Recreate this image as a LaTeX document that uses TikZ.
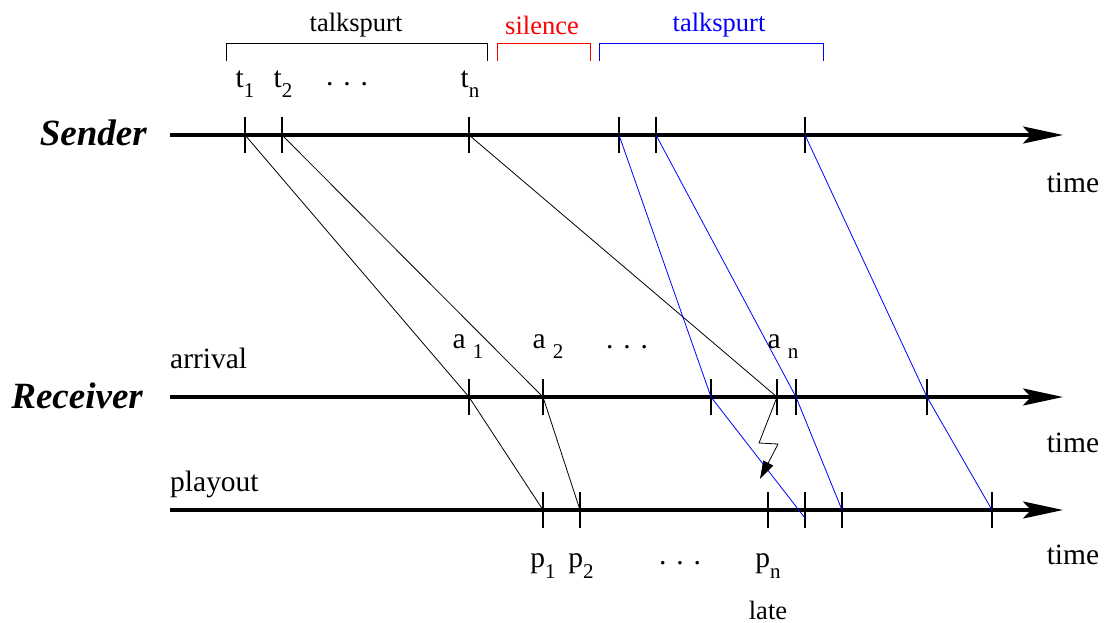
\documentclass[tikz,border=0pt]{standalone}
\usepackage{fontspec}
\setmainfont{Liberation Serif}
\usetikzlibrary{arrows.meta}
\newcommand{\lowsub}[1]{\raisebox{-0.75ex}{\fontsize{21}{23}\selectfont #1}}
\begin{document}
\begin{tikzpicture}[x=1pt,y=-1pt,
  axis/.style={line width=3.6pt,-{Stealth[length=40pt,width=17pt,inset=8pt]}},
  tickmark/.style={line width=1.8pt},
  msg/.style={line width=0.8pt},
  bracket/.style={line width=0.9pt},
  lbl/.style={font=\fontsize{29.5}{32}\selectfont, inner sep=0pt},
  toplbl/.style={font=\fontsize{26.5}{30}\selectfont, inner sep=0pt},
  big/.style={font=\fontsize{37}{40}\selectfont\bfseries\itshape, inner sep=0pt}]
\useasboundingbox (0,0) rectangle (1104,623);
% axis ends
\coordinate (s0) at (170,135); \coordinate (s1) at (1063,135);
\coordinate (r0) at (170,397); \coordinate (r1) at (1063,397);
\coordinate (q0) at (170,510); \coordinate (q1) at (1063,510);
\draw[axis] (s0) -- (s1);
\draw[axis] (r0) -- (r1);
\draw[axis] (q0) -- (q1);
% tick coordinates
\coordinate (t1) at (245,135); \coordinate (t2) at (282,135); \coordinate (tn) at (469,135);
\coordinate (u1) at (619,135); \coordinate (u2) at (656,135); \coordinate (u3) at (805,135);
\coordinate (a1) at (469,397); \coordinate (a2) at (543,397); \coordinate (b1) at (711,397);
\coordinate (an) at (777,397); \coordinate (b2) at (796,397); \coordinate (b3) at (927,397);
\coordinate (p1) at (543,510); \coordinate (p2) at (580,510); \coordinate (pn) at (768,510);
\coordinate (c1) at (805,510); \coordinate (c2) at (842,510); \coordinate (c3) at (992,510);
\coordinate (c1e) at (805,518);
\foreach \c in {t1,t2,tn,u1,u2,u3,a1,a2,b1,an,b2,b3,p1,p2,pn,c1,c2,c3}
  \draw[tickmark] ([yshift=18pt]\c) -- ([yshift=-18pt]\c);
% messages
\draw[msg] (t1) -- (a1) -- (p1);
\draw[msg] (t2) -- (a2) -- (p2);
\draw[msg] (tn) -- (an);
\draw[msg,blue] (u1) -- (b1) -- (c1e);
\draw[msg,blue] (u2) -- (b2) -- (c2);
\draw[msg,blue] (u3) -- (b3) -- (c3);
% lightning
\coordinate (z1) at (759,443); \coordinate (z2) at (778,444); \coordinate (z3) at (760,479);
\draw[msg,-{Triangle[length=18pt,width=11pt]}] (an) -- (z1) -- (z2) -- (z3);
% brackets
\draw[bracket] (226,61) -- (226,43) -- (487,43) -- (487,61);
\draw[bracket,red] (497,61) -- (497,43) -- (590,43) -- (590,61);
\draw[bracket,blue] (599,61) -- (599,43) -- (823,43) -- (823,61);
\node[toplbl] (ts1) at (356,25) {talkspurt};
\node[toplbl,red] (sil) at (542,25) {silence};
\node[toplbl,blue] (ts2) at (719,25) {talkspurt};
% big labels
\node[big,anchor=east] (snd) at (147,133) {Sender};
\node[big,anchor=east] (rcv) at (143,396) {Receiver};
\node[lbl,anchor=west] (arr) at (170,358) {arrival};
\node[lbl,anchor=west] (ply) at (170,484) {playout};
\node[lbl] (tm1) at (1073,183) {time};
\node[lbl] (tm2) at (1073,443) {time};
\node[lbl] (tm3) at (1073,555) {time};
% t labels
\node[lbl] (lt1) at (245,84) {t\lowsub{1}};
\node[lbl] (lt2) at (283,84) {t\lowsub{2}};
\node[lbl] (ltd) at (347,84) {. . .};
\node[lbl] (ltn) at (470,84) {t\lowsub{n}};
% a labels
\node[lbl] (la1) at (468,347) {a \lowsub{1}};
\node[lbl] (la2) at (548,347) {a \lowsub{2}};
\node[lbl] (lad) at (627,347) {. . .};
\node[lbl] (lan) at (783,347) {a \lowsub{n}};
% p labels
\node[lbl] (lp1) at (543,566) {p\lowsub{1}};
\node[lbl] (lp2) at (581,566) {p\lowsub{2}};
\node[lbl] (lpd) at (680,563) {. . .};
\node[lbl] (lpn) at (768,566) {p\lowsub{n}};
\node[font=\fontsize{26.5}{30}\selectfont,inner sep=0pt] (late) at (768,610) {late};
\end{tikzpicture}
\end{document}
